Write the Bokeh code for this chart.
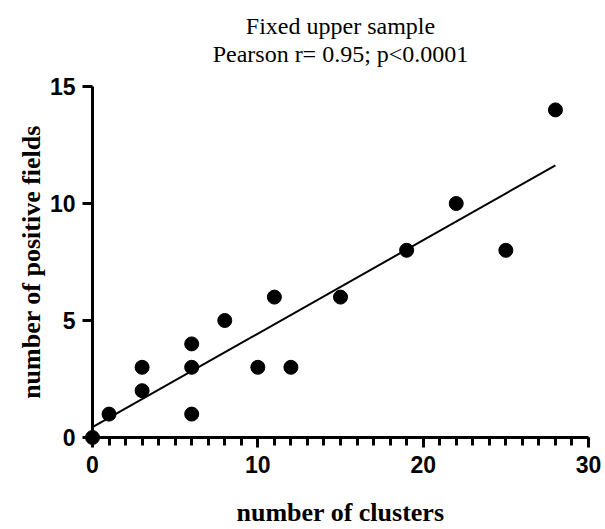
import numpy as np
from bokeh.plotting import figure
from bokeh.models import Range1d, FixedTicker, SingleIntervalTicker, Title
from bokeh.embed import file_html
from bokeh.resources import INLINE

# ---- data ----
clusters = [0, 1, 3, 3, 6, 6, 6, 8, 10, 11, 12, 15, 19, 22, 25, 28]
positive_fields = [0, 1, 3, 2, 4, 3, 1, 5, 3, 6, 3, 6, 8, 10, 8, 14]
x_major_interval = 10
x_minor_per_major = 10
y_ticks = [0, 5, 10, 15]
title_line1 = "Fixed upper sample"
title_line2 = "Pearson r= 0.95; p<0.0001"
x_label = "number of clusters"
y_label = "number of positive fields"

# linear regression line over the data span
slope, intercept = np.polyfit(clusters, positive_fields, 1)
fit_x = [min(clusters), max(clusters)]
fit_y = [intercept + slope * v for v in fit_x]

FW, FH = 496, 351
p = figure(
    frame_width=FW, frame_height=FH,
    x_range=Range1d(0, 30), y_range=Range1d(0, 15),
    output_backend="svg", toolbar_location=None,
    min_border_left=92, min_border_right=13,
    min_border_top=86, min_border_bottom=92,
    background_fill_color="white", border_fill_color="white",
)
p.outline_line_color = None
p.xgrid.visible = False
p.ygrid.visible = False

serif = "Liberation Serif"
sans = "Liberation Sans"

# spacer, then line 2, then line 1 (first added sits closest to the frame)
p.add_layout(Title(text=" ", text_font_size="1px", standoff=17), "above")
p.add_layout(Title(text=title_line2, align="center", text_font=serif,
                   text_font_size="24px", text_font_style="normal",
                   text_color="black", standoff=0), "above")
p.add_layout(Title(text=title_line1, align="center", text_font=serif,
                   text_font_size="24px", text_font_style="normal",
                   text_color="black", standoff=0), "above")

for ax in (p.xaxis[0], p.yaxis[0]):
    ax.axis_line_width = 3
    ax.axis_line_color = "black"
    ax.major_tick_line_width = 3
    ax.major_tick_line_color = "black"
    ax.major_tick_in = 0
    ax.major_tick_out = 10
    ax.major_label_text_font = sans
    ax.major_label_text_font_style = "bold"
    ax.major_label_text_font_size = "23px"
    ax.major_label_text_color = "black"
    ax.axis_label_text_font = serif
    ax.axis_label_text_font_style = "bold"
    ax.axis_label_text_font_size = "26px"
    ax.axis_label_text_color = "black"

xa = p.xaxis[0]
xa.ticker = SingleIntervalTicker(interval=x_major_interval,
                                 num_minor_ticks=x_minor_per_major)
xa.minor_tick_line_color = "black"
xa.minor_tick_line_width = 3
xa.minor_tick_in = 0
xa.minor_tick_out = 8
xa.major_label_standoff = 8
xa.axis_label = x_label
xa.axis_label_standoff = 22

ya = p.yaxis[0]
ya.ticker = FixedTicker(ticks=y_ticks, minor_ticks=[])
ya.minor_tick_line_color = None
ya.major_label_standoff = 7
ya.major_label_orientation = "horizontal"
ya.axis_label = y_label
ya.axis_label_standoff = 1

p.line(fit_x, fit_y, line_color="black", line_width=2)
p.scatter(clusters, positive_fields, size=14, fill_color="black",
          line_color="black", level="overlay")

open("out.html", "w").write(file_html(p, INLINE))
